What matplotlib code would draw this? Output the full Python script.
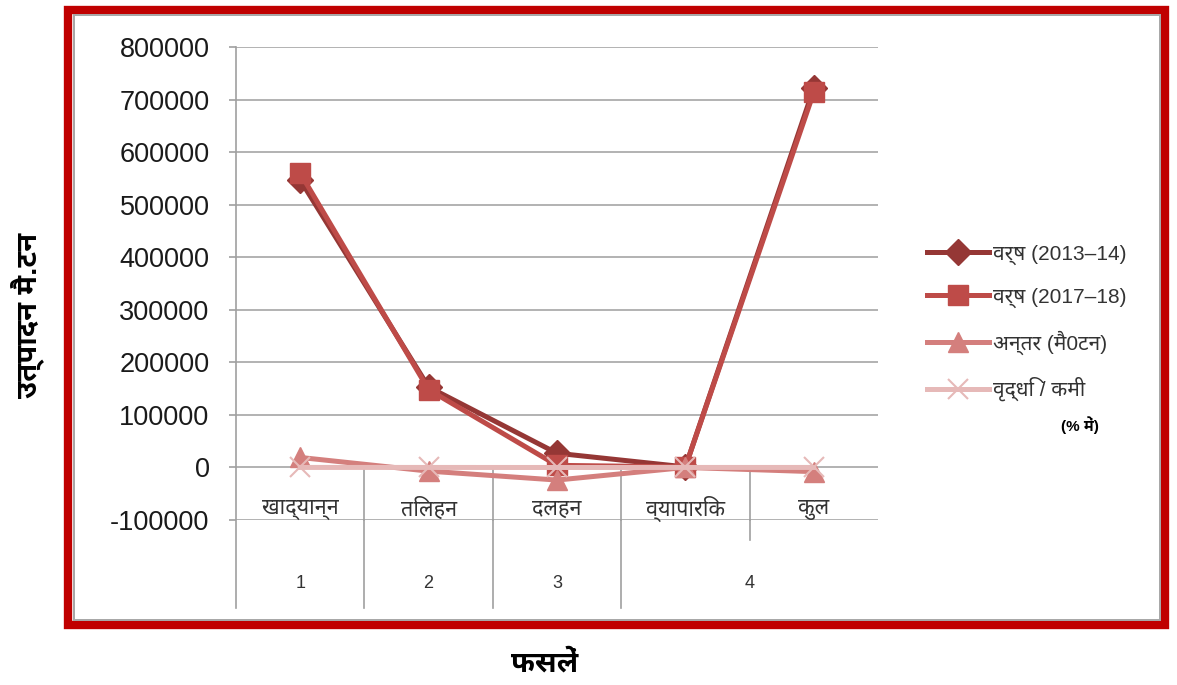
import numpy as np
import matplotlib
matplotlib.use("Agg")
import matplotlib.pyplot as plt
from matplotlib.patches import Rectangle
from matplotlib.lines import Line2D
import matplotlib.transforms as mtransforms

deva = ['Liberation Sans', 'Noto Sans Devanagari']
deva_bold = ['Liberation Sans', 'Noto Sans Devanagari UI']
plt.rcParams['font.family'] = deva
plt.rcParams['axes.unicode_minus'] = False

# crops and groups
crops = ['खाद्यान्न', 'तिलहन', 'दलहन', 'व्यापारिक', 'कुल']
groups = ['1', '2', '3', '4']
group_pos = [0, 1, 2, 3.5]

# production, metric tonnes
prod_2013 = [547000, 153000, 27000, 1000, 722000]
prod_2017 = [560000, 148000, 4000, 1000, 714000]
diff_mt = [19000, -7000, -24000, 0, -8000]
change_pct = [3, -4, -85, 0, -1]

labels = ['वर्ष (2013–14)', 'वर्ष (2017–18)', 'अन्तर (मै0टन)', 'वृद्धि / कमी']
colors = ['#953735', '#be4b48', '#d47f7d', '#e6b9b8']

W, H = 1177, 685
fig = plt.figure(figsize=(W / 100, H / 100), dpi=100)
ax = fig.add_axes([236 / W, 1 - 520 / H, 642 / W, 473 / H])

x = np.arange(len(crops))
ax.plot(x, prod_2013, color=colors[0], lw=3.6, marker='D', ms=13, label=labels[0], zorder=3)
ax.plot(x, prod_2017, color=colors[1], lw=3.6, marker='s', ms=15, label=labels[1], zorder=4)
ax.plot(x, diff_mt, color=colors[2], lw=3.6, marker='^', ms=15, label=labels[2], zorder=5)
ax.plot(x, change_pct, color=colors[3], lw=3.6, marker='x', ms=15, mew=1.5, label=labels[3], zorder=6)

ax.set_xlim(-0.5, len(crops) - 0.5)
ax.set_ylim(-100000, 800000)
ax.set_yticks(np.arange(-100000, 800001, 100000))
ax.tick_params(axis='y', length=5, width=1.2, color='#a0a0a0', pad=14,
               labelsize=19.5, labelcolor='#1a1a1a')
ax.tick_params(axis='x', bottom=False, labelbottom=False)
for lab in ax.get_yticklabels():
    lab.set_fontfamily('Liberation Sans')
ax.grid(axis='y', color='#a6a6a6', lw=1.2)
ax.set_axisbelow(True)
for s in ax.spines.values():
    s.set_visible(False)

# category table below the zero line
bt = mtransforms.blended_transform_factory(ax.transData, ax.transAxes)
y_low = -88 / 473
y_mid = -20 / 473
ax.add_line(Line2D([-0.5, -0.5], [1, y_low], transform=bt, color='#a0a0a0', lw=1.2, clip_on=False))
for b in [0.5, 1.5, 2.5]:
    ax.add_line(Line2D([b, b], [0, -100000], color='#a0a0a0', lw=1.2, clip_on=False))
    ax.add_line(Line2D([b, b], [0, y_low], transform=bt, color='#a0a0a0', lw=1.2, clip_on=False))
ax.add_line(Line2D([3.5, 3.5], [0, -100000], color='#a0a0a0', lw=1.2, clip_on=False))
ax.add_line(Line2D([3.5, 3.5], [0, y_mid], transform=bt, color='#a0a0a0', lw=1.2, clip_on=False))

for i, c in enumerate(crops):
    ax.text(i, 11 / 473, c, transform=bt, ha='center', va='center',
            fontsize=15.5, color='#333333')
for p, g in zip(group_pos, groups):
    ax.text(p, -63 / 473, g, transform=bt, ha='center', va='center',
            fontsize=13, color='#333333', family='Liberation Sans')

ax.legend(loc='upper left', bbox_to_anchor=(908 / W, 1 - 226 / H),
          bbox_transform=fig.transFigure, frameon=False, fontsize=15,
          handlelength=3.0, handletextpad=0.2, labelspacing=1.08,
          labelcolor='#333333')
fig.text(1080 / W, 1 - 425 / H, '(% में)', ha='center', va='center',
         fontsize=11, fontweight='bold', family=deva_bold)

fig.text(27 / W, 1 - 315 / H, 'उत्पादन मै.टन', rotation=90, ha='center', va='center',
         fontsize=21, fontweight='bold', family=deva_bold)
fig.text(545 / W, 1 - 664 / H, 'फसलें', ha='center', va='center',
         fontsize=21, fontweight='bold', family=deva_bold)

# red border with a thin grey inner edge
fig.patches.append(Rectangle((68 / W, 1 - 625 / H), 1097 / W, 615 / H,
                             transform=fig.transFigure, fill=False,
                             edgecolor='#c00000', lw=6, zorder=0))
fig.patches.append(Rectangle((73.5 / W, 1 - 620 / H), 1086 / W, 605 / H,
                             transform=fig.transFigure, fill=False,
                             edgecolor='#a6a6a6', lw=1.4, zorder=0))

fig.savefig('out.png', dpi=100)
